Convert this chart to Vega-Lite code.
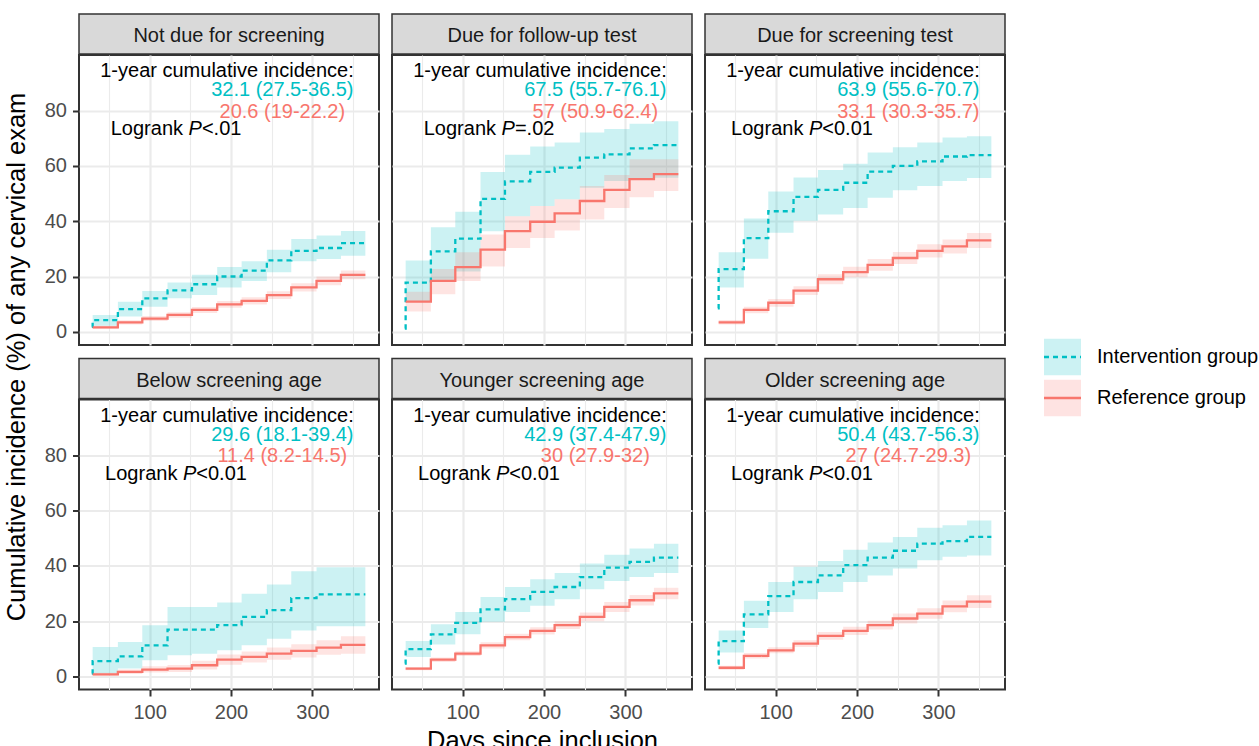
{
"$schema": "https://vega.github.io/schema/vega-lite/v6.json",
"padding": {"left": 0, "top": 13, "right": 0, "bottom": 0},
"config": {
 "font": "Liberation Sans",
 "text": {"font": "Liberation Sans"},
 "axis": {"gridColor": "#EBEBEB", "domain": false, "labelFontSize": 20, "labelColor": "#4D4D4D", "labelFont": "Liberation Sans", "tickColor": "#333333", "tickSize": 6.5, "tickWidth": 2, "labelPadding": 6, "titleFontSize": 25.5, "titleFont": "Liberation Sans", "titleFontWeight": "normal", "titleColor": "#000000", "titlePadding": 6, "labelOverlap": false, "labelFlush": false}
},
"datasets": {
 "ann": [
  {"panel": "Not due for screening", "int": "32.1 (27.5-36.5)", "ref": "20.6 (19-22.2)", "rest": "<.01"},
  {"panel": "Due for follow-up test", "int": "67.5 (55.7-76.1)", "ref": "57 (50.9-62.4)", "rest": "=.02"},
  {"panel": "Due for screening test", "int": "63.9 (55.6-70.7)", "ref": "33.1 (30.3-35.7)", "rest": "<0.01"},
  {"panel": "Below screening age", "int": "29.6 (18.1-39.4)", "ref": "11.4 (8.2-14.5)", "rest": "<0.01"},
  {"panel": "Younger screening age", "int": "42.9 (37.4-47.9)", "ref": "30 (27.9-32)", "rest": "<0.01"},
  {"panel": "Older screening age", "int": "50.4 (43.7-56.3)", "ref": "27 (24.7-29.3)", "rest": "<0.01"}
 ],
 "km": [
  {"panel": "Not due for screening", "group": "Intervention group", "day": 29, "est": 1.8, "lower": null, "upper": null},
  {"panel": "Not due for screening", "group": "Intervention group", "day": 30, "est": 4.2, "lower": 2.2, "upper": 6.1},
  {"panel": "Not due for screening", "group": "Intervention group", "day": 61, "est": 8.2, "lower": 5.5, "upper": 10.9},
  {"panel": "Not due for screening", "group": "Intervention group", "day": 91, "est": 12.1, "lower": 9.1, "upper": 14.8},
  {"panel": "Not due for screening", "group": "Intervention group", "day": 122, "est": 15.0, "lower": 12.1, "upper": 17.8},
  {"panel": "Not due for screening", "group": "Intervention group", "day": 152, "est": 17.2, "lower": 13.3, "upper": 20.6},
  {"panel": "Not due for screening", "group": "Intervention group", "day": 183, "est": 20.0, "lower": 16.0, "upper": 23.4},
  {"panel": "Not due for screening", "group": "Intervention group", "day": 213, "est": 22.1, "lower": 18.4, "upper": 25.5},
  {"panel": "Not due for screening", "group": "Intervention group", "day": 244, "est": 25.8, "lower": 21.5, "upper": 29.7},
  {"panel": "Not due for screening", "group": "Intervention group", "day": 274, "est": 29.3, "lower": 25.5, "upper": 33.6},
  {"panel": "Not due for screening", "group": "Intervention group", "day": 305, "est": 30.3, "lower": 26.3, "upper": 34.8},
  {"panel": "Not due for screening", "group": "Intervention group", "day": 335, "est": 32.1, "lower": 27.5, "upper": 36.5},
  {"panel": "Not due for screening", "group": "Intervention group", "day": 365, "est": 32.1, "lower": 27.5, "upper": 36.5},
  {"panel": "Not due for screening", "group": "Reference group", "day": 30, "est": 1.6, "lower": 1.1, "upper": 2.2},
  {"panel": "Not due for screening", "group": "Reference group", "day": 61, "est": 3.4, "lower": 2.6, "upper": 4.2},
  {"panel": "Not due for screening", "group": "Reference group", "day": 91, "est": 4.8, "lower": 3.9, "upper": 5.7},
  {"panel": "Not due for screening", "group": "Reference group", "day": 122, "est": 6.1, "lower": 5.1, "upper": 7.1},
  {"panel": "Not due for screening", "group": "Reference group", "day": 152, "est": 7.9, "lower": 6.8, "upper": 9.0},
  {"panel": "Not due for screening", "group": "Reference group", "day": 183, "est": 9.9, "lower": 8.7, "upper": 11.1},
  {"panel": "Not due for screening", "group": "Reference group", "day": 213, "est": 11.2, "lower": 9.9, "upper": 12.5},
  {"panel": "Not due for screening", "group": "Reference group", "day": 244, "est": 13.3, "lower": 11.9, "upper": 14.7},
  {"panel": "Not due for screening", "group": "Reference group", "day": 274, "est": 16.1, "lower": 14.6, "upper": 17.6},
  {"panel": "Not due for screening", "group": "Reference group", "day": 305, "est": 18.4, "lower": 16.8, "upper": 20.0},
  {"panel": "Not due for screening", "group": "Reference group", "day": 335, "est": 20.6, "lower": 19.0, "upper": 22.2},
  {"panel": "Not due for screening", "group": "Reference group", "day": 365, "est": 20.6, "lower": 19.0, "upper": 22.2},

  {"panel": "Due for follow-up test", "group": "Intervention group", "day": 29, "est": 1.2, "lower": null, "upper": null},
  {"panel": "Due for follow-up test", "group": "Intervention group", "day": 30, "est": 17.8, "lower": 10.9, "upper": 25.8},
  {"panel": "Due for follow-up test", "group": "Intervention group", "day": 61, "est": 29.1, "lower": 18.2, "upper": 37.8},
  {"panel": "Due for follow-up test", "group": "Intervention group", "day": 91, "est": 33.7, "lower": 21.8, "upper": 43.4},
  {"panel": "Due for follow-up test", "group": "Intervention group", "day": 122, "est": 48.1, "lower": 36.4, "upper": 57.8},
  {"panel": "Due for follow-up test", "group": "Intervention group", "day": 152, "est": 54.4, "lower": 41.8, "upper": 64.0},
  {"panel": "Due for follow-up test", "group": "Intervention group", "day": 183, "est": 57.8, "lower": 45.5, "upper": 67.0},
  {"panel": "Due for follow-up test", "group": "Intervention group", "day": 213, "est": 59.4, "lower": 47.9, "upper": 68.5},
  {"panel": "Due for follow-up test", "group": "Intervention group", "day": 244, "est": 63.0, "lower": 52.1, "upper": 72.1},
  {"panel": "Due for follow-up test", "group": "Intervention group", "day": 274, "est": 64.2, "lower": 54.5, "upper": 73.3},
  {"panel": "Due for follow-up test", "group": "Intervention group", "day": 305, "est": 66.3, "lower": 55.5, "upper": 75.2},
  {"panel": "Due for follow-up test", "group": "Intervention group", "day": 335, "est": 67.5, "lower": 55.7, "upper": 76.1},
  {"panel": "Due for follow-up test", "group": "Intervention group", "day": 365, "est": 67.5, "lower": 55.7, "upper": 76.1},
  {"panel": "Due for follow-up test", "group": "Reference group", "day": 30, "est": 10.9, "lower": 7.3, "upper": 14.5},
  {"panel": "Due for follow-up test", "group": "Reference group", "day": 61, "est": 18.4, "lower": 13.6, "upper": 22.7},
  {"panel": "Due for follow-up test", "group": "Reference group", "day": 91, "est": 23.4, "lower": 18.4, "upper": 28.8},
  {"panel": "Due for follow-up test", "group": "Reference group", "day": 122, "est": 29.7, "lower": 23.6, "upper": 35.2},
  {"panel": "Due for follow-up test", "group": "Reference group", "day": 152, "est": 36.4, "lower": 30.3, "upper": 41.8},
  {"panel": "Due for follow-up test", "group": "Reference group", "day": 183, "est": 39.8, "lower": 33.9, "upper": 45.5},
  {"panel": "Due for follow-up test", "group": "Reference group", "day": 213, "est": 42.8, "lower": 36.6, "upper": 47.9},
  {"panel": "Due for follow-up test", "group": "Reference group", "day": 244, "est": 47.3, "lower": 40.6, "upper": 52.7},
  {"panel": "Due for follow-up test", "group": "Reference group", "day": 274, "est": 51.3, "lower": 44.8, "upper": 56.7},
  {"panel": "Due for follow-up test", "group": "Reference group", "day": 305, "est": 55.2, "lower": 48.7, "upper": 62.4},
  {"panel": "Due for follow-up test", "group": "Reference group", "day": 335, "est": 57.0, "lower": 50.9, "upper": 62.4},
  {"panel": "Due for follow-up test", "group": "Reference group", "day": 365, "est": 57.0, "lower": 50.9, "upper": 62.4},

  {"panel": "Due for screening test", "group": "Intervention group", "day": 29, "est": 8.5, "lower": null, "upper": null},
  {"panel": "Due for screening test", "group": "Intervention group", "day": 30, "est": 22.7, "lower": 16.0, "upper": 28.8},
  {"panel": "Due for screening test", "group": "Intervention group", "day": 61, "est": 33.9, "lower": 26.4, "upper": 41.0},
  {"panel": "Due for screening test", "group": "Intervention group", "day": 91, "est": 43.6, "lower": 35.8, "upper": 50.7},
  {"panel": "Due for screening test", "group": "Intervention group", "day": 122, "est": 48.8, "lower": 40.2, "upper": 55.8},
  {"panel": "Due for screening test", "group": "Intervention group", "day": 152, "est": 51.3, "lower": 42.4, "upper": 58.5},
  {"panel": "Due for screening test", "group": "Intervention group", "day": 183, "est": 53.9, "lower": 44.8, "upper": 60.8},
  {"panel": "Due for screening test", "group": "Intervention group", "day": 213, "est": 57.9, "lower": 48.5, "upper": 64.8},
  {"panel": "Due for screening test", "group": "Intervention group", "day": 244, "est": 60.0, "lower": 51.2, "upper": 66.7},
  {"panel": "Due for screening test", "group": "Intervention group", "day": 274, "est": 61.6, "lower": 52.7, "upper": 68.5},
  {"panel": "Due for screening test", "group": "Intervention group", "day": 305, "est": 63.4, "lower": 54.5, "upper": 70.3},
  {"panel": "Due for screening test", "group": "Intervention group", "day": 335, "est": 63.9, "lower": 55.6, "upper": 70.7},
  {"panel": "Due for screening test", "group": "Intervention group", "day": 365, "est": 63.9, "lower": 55.6, "upper": 70.7},
  {"panel": "Due for screening test", "group": "Reference group", "day": 30, "est": 3.4, "lower": 2.6, "upper": 4.3},
  {"panel": "Due for screening test", "group": "Reference group", "day": 61, "est": 7.9, "lower": 6.7, "upper": 9.1},
  {"panel": "Due for screening test", "group": "Reference group", "day": 91, "est": 10.5, "lower": 9.1, "upper": 11.9},
  {"panel": "Due for screening test", "group": "Reference group", "day": 122, "est": 14.9, "lower": 13.3, "upper": 16.5},
  {"panel": "Due for screening test", "group": "Reference group", "day": 152, "est": 19.0, "lower": 17.2, "upper": 20.8},
  {"panel": "Due for screening test", "group": "Reference group", "day": 183, "est": 21.6, "lower": 19.7, "upper": 23.5},
  {"panel": "Due for screening test", "group": "Reference group", "day": 213, "est": 24.2, "lower": 22.1, "upper": 26.3},
  {"panel": "Due for screening test", "group": "Reference group", "day": 244, "est": 26.7, "lower": 24.5, "upper": 28.9},
  {"panel": "Due for screening test", "group": "Reference group", "day": 274, "est": 29.3, "lower": 26.9, "upper": 31.7},
  {"panel": "Due for screening test", "group": "Reference group", "day": 305, "est": 30.9, "lower": 28.3, "upper": 33.4},
  {"panel": "Due for screening test", "group": "Reference group", "day": 335, "est": 33.1, "lower": 30.3, "upper": 35.7},
  {"panel": "Due for screening test", "group": "Reference group", "day": 365, "est": 33.1, "lower": 30.3, "upper": 35.7},

  {"panel": "Below screening age", "group": "Intervention group", "day": 29, "est": 1.0, "lower": null, "upper": null},
  {"panel": "Below screening age", "group": "Intervention group", "day": 30, "est": 5.5, "lower": 1.0, "upper": 10.6},
  {"panel": "Below screening age", "group": "Intervention group", "day": 61, "est": 7.2, "lower": 2.8, "upper": 12.4},
  {"panel": "Below screening age", "group": "Intervention group", "day": 91, "est": 11.2, "lower": 5.8, "upper": 18.5},
  {"panel": "Below screening age", "group": "Intervention group", "day": 122, "est": 16.9, "lower": 7.6, "upper": 25.1},
  {"panel": "Below screening age", "group": "Intervention group", "day": 152, "est": 16.9, "lower": 8.2, "upper": 25.1},
  {"panel": "Below screening age", "group": "Intervention group", "day": 183, "est": 18.5, "lower": 9.4, "upper": 26.7},
  {"panel": "Below screening age", "group": "Intervention group", "day": 213, "est": 21.5, "lower": 11.2, "upper": 29.9},
  {"panel": "Below screening age", "group": "Intervention group", "day": 244, "est": 23.9, "lower": 13.6, "upper": 33.2},
  {"panel": "Below screening age", "group": "Intervention group", "day": 274, "est": 28.3, "lower": 16.6, "upper": 38.0},
  {"panel": "Below screening age", "group": "Intervention group", "day": 305, "est": 29.6, "lower": 18.1, "upper": 39.4},
  {"panel": "Below screening age", "group": "Intervention group", "day": 335, "est": 29.6, "lower": 18.1, "upper": 39.4},
  {"panel": "Below screening age", "group": "Intervention group", "day": 365, "est": 29.6, "lower": 18.1, "upper": 39.4},
  {"panel": "Below screening age", "group": "Reference group", "day": 30, "est": 0.7, "lower": 0.2, "upper": 1.3},
  {"panel": "Below screening age", "group": "Reference group", "day": 61, "est": 1.6, "lower": 0.8, "upper": 2.5},
  {"panel": "Below screening age", "group": "Reference group", "day": 91, "est": 2.4, "lower": 1.4, "upper": 3.6},
  {"panel": "Below screening age", "group": "Reference group", "day": 122, "est": 2.8, "lower": 1.6, "upper": 4.1},
  {"panel": "Below screening age", "group": "Reference group", "day": 152, "est": 4.0, "lower": 2.5, "upper": 5.6},
  {"panel": "Below screening age", "group": "Reference group", "day": 183, "est": 6.0, "lower": 4.2, "upper": 7.9},
  {"panel": "Below screening age", "group": "Reference group", "day": 213, "est": 7.0, "lower": 5.0, "upper": 9.0},
  {"panel": "Below screening age", "group": "Reference group", "day": 244, "est": 8.2, "lower": 6.0, "upper": 10.4},
  {"panel": "Below screening age", "group": "Reference group", "day": 274, "est": 9.2, "lower": 6.8, "upper": 11.6},
  {"panel": "Below screening age", "group": "Reference group", "day": 305, "est": 10.4, "lower": 7.8, "upper": 13.0},
  {"panel": "Below screening age", "group": "Reference group", "day": 335, "est": 11.4, "lower": 8.2, "upper": 14.5},
  {"panel": "Below screening age", "group": "Reference group", "day": 365, "est": 11.4, "lower": 8.2, "upper": 14.5},

  {"panel": "Younger screening age", "group": "Intervention group", "day": 29, "est": 4.6, "lower": null, "upper": null},
  {"panel": "Younger screening age", "group": "Intervention group", "day": 30, "est": 9.8, "lower": 7.0, "upper": 12.8},
  {"panel": "Younger screening age", "group": "Intervention group", "day": 61, "est": 15.2, "lower": 11.5, "upper": 18.8},
  {"panel": "Younger screening age", "group": "Intervention group", "day": 91, "est": 19.3, "lower": 15.2, "upper": 23.3},
  {"panel": "Younger screening age", "group": "Intervention group", "day": 122, "est": 24.2, "lower": 19.7, "upper": 28.7},
  {"panel": "Younger screening age", "group": "Intervention group", "day": 152, "est": 27.9, "lower": 23.3, "upper": 32.3},
  {"panel": "Younger screening age", "group": "Intervention group", "day": 183, "est": 30.5, "lower": 25.5, "upper": 35.1},
  {"panel": "Younger screening age", "group": "Intervention group", "day": 213, "est": 32.3, "lower": 27.9, "upper": 37.4},
  {"panel": "Younger screening age", "group": "Intervention group", "day": 244, "est": 35.9, "lower": 31.5, "upper": 40.8},
  {"panel": "Younger screening age", "group": "Intervention group", "day": 274, "est": 39.3, "lower": 34.5, "upper": 44.0},
  {"panel": "Younger screening age", "group": "Intervention group", "day": 305, "est": 41.4, "lower": 35.9, "upper": 46.2},
  {"panel": "Younger screening age", "group": "Intervention group", "day": 335, "est": 42.9, "lower": 37.4, "upper": 47.9},
  {"panel": "Younger screening age", "group": "Intervention group", "day": 365, "est": 42.9, "lower": 37.4, "upper": 47.9},
  {"panel": "Younger screening age", "group": "Reference group", "day": 30, "est": 2.8, "lower": 2.2, "upper": 3.4},
  {"panel": "Younger screening age", "group": "Reference group", "day": 61, "est": 6.0, "lower": 5.2, "upper": 6.8},
  {"panel": "Younger screening age", "group": "Reference group", "day": 91, "est": 8.2, "lower": 7.3, "upper": 9.1},
  {"panel": "Younger screening age", "group": "Reference group", "day": 122, "est": 11.2, "lower": 10.1, "upper": 12.3},
  {"panel": "Younger screening age", "group": "Reference group", "day": 152, "est": 14.2, "lower": 13.0, "upper": 15.4},
  {"panel": "Younger screening age", "group": "Reference group", "day": 183, "est": 16.4, "lower": 15.1, "upper": 17.7},
  {"panel": "Younger screening age", "group": "Reference group", "day": 213, "est": 18.5, "lower": 17.1, "upper": 19.9},
  {"panel": "Younger screening age", "group": "Reference group", "day": 244, "est": 21.5, "lower": 19.9, "upper": 23.1},
  {"panel": "Younger screening age", "group": "Reference group", "day": 274, "est": 25.1, "lower": 23.3, "upper": 26.9},
  {"panel": "Younger screening age", "group": "Reference group", "day": 305, "est": 27.5, "lower": 25.6, "upper": 29.4},
  {"panel": "Younger screening age", "group": "Reference group", "day": 335, "est": 30.0, "lower": 27.9, "upper": 32.0},
  {"panel": "Younger screening age", "group": "Reference group", "day": 365, "est": 30.0, "lower": 27.9, "upper": 32.0},

  {"panel": "Older screening age", "group": "Intervention group", "day": 29, "est": 4.6, "lower": null, "upper": null},
  {"panel": "Older screening age", "group": "Intervention group", "day": 30, "est": 12.7, "lower": 8.6, "upper": 16.6},
  {"panel": "Older screening age", "group": "Intervention group", "day": 61, "est": 22.4, "lower": 17.5, "upper": 27.3},
  {"panel": "Older screening age", "group": "Intervention group", "day": 91, "est": 29.0, "lower": 23.3, "upper": 34.1},
  {"panel": "Older screening age", "group": "Intervention group", "day": 122, "est": 34.1, "lower": 27.9, "upper": 39.6},
  {"panel": "Older screening age", "group": "Intervention group", "day": 152, "est": 36.5, "lower": 30.5, "upper": 41.7},
  {"panel": "Older screening age", "group": "Intervention group", "day": 183, "est": 40.2, "lower": 34.1, "upper": 45.8},
  {"panel": "Older screening age", "group": "Intervention group", "day": 213, "est": 42.9, "lower": 36.5, "upper": 48.4},
  {"panel": "Older screening age", "group": "Intervention group", "day": 244, "est": 45.4, "lower": 39.0, "upper": 50.4},
  {"panel": "Older screening age", "group": "Intervention group", "day": 274, "est": 48.0, "lower": 42.0, "upper": 53.7},
  {"panel": "Older screening age", "group": "Intervention group", "day": 305, "est": 48.9, "lower": 43.2, "upper": 54.6},
  {"panel": "Older screening age", "group": "Intervention group", "day": 335, "est": 50.4, "lower": 43.7, "upper": 56.3},
  {"panel": "Older screening age", "group": "Intervention group", "day": 365, "est": 50.4, "lower": 43.7, "upper": 56.3},
  {"panel": "Older screening age", "group": "Reference group", "day": 30, "est": 3.1, "lower": 2.4, "upper": 3.8},
  {"panel": "Older screening age", "group": "Reference group", "day": 61, "est": 7.4, "lower": 6.4, "upper": 8.4},
  {"panel": "Older screening age", "group": "Reference group", "day": 91, "est": 9.4, "lower": 8.3, "upper": 10.5},
  {"panel": "Older screening age", "group": "Reference group", "day": 122, "est": 11.8, "lower": 10.6, "upper": 13.0},
  {"panel": "Older screening age", "group": "Reference group", "day": 152, "est": 14.6, "lower": 13.2, "upper": 16.0},
  {"panel": "Older screening age", "group": "Reference group", "day": 183, "est": 16.4, "lower": 14.9, "upper": 17.9},
  {"panel": "Older screening age", "group": "Reference group", "day": 213, "est": 18.5, "lower": 16.9, "upper": 20.1},
  {"panel": "Older screening age", "group": "Reference group", "day": 244, "est": 20.9, "lower": 19.1, "upper": 22.7},
  {"panel": "Older screening age", "group": "Reference group", "day": 274, "est": 22.7, "lower": 20.8, "upper": 24.6},
  {"panel": "Older screening age", "group": "Reference group", "day": 305, "est": 25.3, "lower": 23.2, "upper": 27.4},
  {"panel": "Older screening age", "group": "Reference group", "day": 335, "est": 27.0, "lower": 24.7, "upper": 29.3},
  {"panel": "Older screening age", "group": "Reference group", "day": 365, "est": 27.0, "lower": 24.7, "upper": 29.3}
 ]
},
"spacing": 10,
"hconcat": [
 {"width": 33, "height": 686, "view": {"stroke": null},
  "data": {"values": [{"t": "Cumulative incidence (%) of any cervical exam"}]},
  "mark": {"type": "text", "angle": 270, "fontSize": 25.5, "color": "#000000", "baseline": "middle", "align": "center"},
  "encoding": {"text": {"field": "t"}}},
 {"spacing": 11.5, "vconcat": [
  {"spacing": 11, "hconcat": [
   {"spacing": -1.5, "vconcat": [
    {"width": 300, "height": 40, "view": {"fill": "#D9D9D9", "stroke": "#333333", "strokeWidth": 1.5},
     "data": {"name": "ann"}, "transform": [{"filter": "datum.panel === 'Not due for screening'"}],
     "mark": {"type": "text", "fontSize": 20, "color": "#1A1A1A", "baseline": "middle", "dy": 2},
     "encoding": {"text": {"field": "panel"}}},
    {"width": 300, "height": 290, "view": {"stroke": "#333333", "strokeWidth": 2},
     "layer": [
      {"data": {"name": "km"}, "transform": [{"filter": "datum.panel === 'Not due for screening'"}],
       "layer": [
        {"mark": {"type": "area", "interpolate": "step-after", "opacity": 0.2},
         "encoding": {
          "x": {"field": "day", "type": "quantitative", "scale": {"domain": [13.25, 381.75], "nice": false, "zero": false},
                "axis": {"title": null, "values": [50,100,150,200,250,300,350], "labels": false, "ticks": false, "gridWidth": {"condition": {"test": "datum.value % 100 === 0", "value": 2.2}, "value": 1.1}}},
          "y": {"field": "lower", "type": "quantitative", "scale": {"domain": [-4.77, 100.1], "nice": false, "zero": false},
                "axis": {"title": null, "values": [0,10,20,30,40,50,60,70,80,90], "labelExpr": "datum.value % 20 === 0 ? datum.label : ''", "tickOpacity": {"condition": {"test": "datum.value % 20 === 0", "value": 1}, "value": 0}, "gridWidth": {"condition": {"test": "datum.value % 20 === 0", "value": 2.2}, "value": 1.1}}},
          "y2": {"field": "upper"},
          "fill": {"field": "group", "type": "nominal", "scale": {"domain": ["Intervention group", "Reference group"], "range": ["#00BFC4", "#F8766D"]},
                   "legend": {"title": null, "orient": "none", "legendX": 1042.5, "legendY": 324.5, "clipHeight": 37, "symbolType": "square", "symbolSize": 1369, "symbolOpacity": 0.2, "symbolStrokeColor": "transparent", "symbolStrokeWidth": 2.3, "labelFontSize": 20, "labelFont": "Liberation Sans", "labelOffset": 14.5, "labelLimit": 400, "rowPadding": 4, "padding": 0, "labelColor": "#000000"}}}},
        {"mark": {"type": "line", "interpolate": "step-after", "strokeWidth": 2.3},
         "encoding": {
          "x": {"field": "day", "type": "quantitative"},
          "y": {"field": "est", "type": "quantitative"},
          "stroke": {"field": "group", "type": "nominal", "scale": {"range": ["#00BFC4", "#F8766D"]},
                     "legend": {"title": null, "orient": "none", "legendX": 1042.5, "legendY": 324.5, "clipHeight": 37, "symbolType": "stroke", "symbolSize": 1369, "symbolStrokeWidth": 2.3, "labelFontSize": 20, "labelFont": "Liberation Sans", "labelOffset": 14.5, "labelLimit": 400, "rowPadding": 4, "padding": 0, "labelOpacity": 0}},
          "strokeDash": {"field": "group", "type": "nominal", "scale": {"range": [[5,4],[1,0]]},
                     "legend": {"title": null, "orient": "none", "legendX": 1042.5, "legendY": 324.5, "clipHeight": 37, "symbolType": "stroke", "symbolSize": 1369, "symbolStrokeWidth": 2.3, "labelFontSize": 20, "labelFont": "Liberation Sans", "labelOffset": 14.5, "labelLimit": 400, "rowPadding": 4, "padding": 0, "labelOpacity": 0}}}}
       ]},
      {"data": {"name": "ann"}, "transform": [{"filter": "datum.panel === 'Not due for screening'"}],
       "layer": [
        {"mark": {"type": "text", "fontSize": 20, "color": "#000000", "baseline": "middle", "text": "1-year cumulative incidence:"}, "encoding": {"x": {"datum": 195}, "y": {"datum": 94.2}}},
        {"mark": {"type": "text", "fontSize": 20, "color": "#00BFC4", "baseline": "middle"}, "encoding": {"x": {"datum": 263}, "y": {"datum": 87.4}, "text": {"field": "int"}}},
        {"mark": {"type": "text", "fontSize": 20, "color": "#F8766D", "baseline": "middle"}, "encoding": {"x": {"datum": 263}, "y": {"datum": 79.6}, "text": {"field": "ref"}}},
        {"mark": {"type": "text", "fontSize": 20, "color": "#000000", "baseline": "middle", "align": "right", "dx": -5.6, "text": "Logrank"}, "encoding": {"x": {"datum": 147.9}, "y": {"datum": 73.3}}},
        {"mark": {"type": "text", "fontSize": 20, "color": "#000000", "baseline": "middle", "align": "left", "fontStyle": "italic", "text": "P"}, "encoding": {"x": {"datum": 147.9}, "y": {"datum": 73.3}}},
        {"mark": {"type": "text", "fontSize": 20, "color": "#000000", "baseline": "middle", "align": "left", "dx": 13.3}, "encoding": {"x": {"datum": 147.9}, "y": {"datum": 73.3}, "text": {"field": "rest"}}}
       ]}
     ]}
   ]},
   {"spacing": -1.5, "vconcat": [
    {"width": 300, "height": 40, "view": {"fill": "#D9D9D9", "stroke": "#333333", "strokeWidth": 1.5},
     "data": {"name": "ann"}, "transform": [{"filter": "datum.panel === 'Due for follow-up test'"}],
     "mark": {"type": "text", "fontSize": 20, "color": "#1A1A1A", "baseline": "middle", "dy": 2},
     "encoding": {"text": {"field": "panel"}}},
    {"width": 300, "height": 290, "view": {"stroke": "#333333", "strokeWidth": 2},
     "layer": [
      {"data": {"name": "km"}, "transform": [{"filter": "datum.panel === 'Due for follow-up test'"}],
       "layer": [
        {"mark": {"type": "area", "interpolate": "step-after", "opacity": 0.2},
         "encoding": {
          "x": {"field": "day", "type": "quantitative", "scale": {"domain": [13.25, 381.75], "nice": false, "zero": false},
                "axis": {"title": null, "values": [50,100,150,200,250,300,350], "labels": false, "ticks": false, "gridWidth": {"condition": {"test": "datum.value % 100 === 0", "value": 2.2}, "value": 1.1}}},
          "y": {"field": "lower", "type": "quantitative", "scale": {"domain": [-4.77, 100.1], "nice": false, "zero": false},
                "axis": {"title": null, "values": [0,10,20,30,40,50,60,70,80,90], "labels": false, "ticks": false, "gridWidth": {"condition": {"test": "datum.value % 20 === 0", "value": 2.2}, "value": 1.1}}},
          "y2": {"field": "upper"},
          "fill": {"field": "group", "type": "nominal", "scale": {"domain": ["Intervention group", "Reference group"], "range": ["#00BFC4", "#F8766D"]}}}},
        {"mark": {"type": "line", "interpolate": "step-after", "strokeWidth": 2.3},
         "encoding": {
          "x": {"field": "day", "type": "quantitative"},
          "y": {"field": "est", "type": "quantitative"},
          "stroke": {"field": "group", "type": "nominal", "scale": {"range": ["#00BFC4", "#F8766D"]}},
          "strokeDash": {"field": "group", "type": "nominal", "scale": {"range": [[5,4],[1,0]]}}}}
       ]},
      {"data": {"name": "ann"}, "transform": [{"filter": "datum.panel === 'Due for follow-up test'"}],
       "layer": [
        {"mark": {"type": "text", "fontSize": 20, "color": "#000000", "baseline": "middle", "text": "1-year cumulative incidence:"}, "encoding": {"x": {"datum": 195}, "y": {"datum": 94.2}}},
        {"mark": {"type": "text", "fontSize": 20, "color": "#00BFC4", "baseline": "middle"}, "encoding": {"x": {"datum": 263}, "y": {"datum": 87.4}, "text": {"field": "int"}}},
        {"mark": {"type": "text", "fontSize": 20, "color": "#F8766D", "baseline": "middle"}, "encoding": {"x": {"datum": 263}, "y": {"datum": 79.6}, "text": {"field": "ref"}}},
        {"mark": {"type": "text", "fontSize": 20, "color": "#000000", "baseline": "middle", "align": "right", "dx": -5.6, "text": "Logrank"}, "encoding": {"x": {"datum": 147.9}, "y": {"datum": 73.3}}},
        {"mark": {"type": "text", "fontSize": 20, "color": "#000000", "baseline": "middle", "align": "left", "fontStyle": "italic", "text": "P"}, "encoding": {"x": {"datum": 147.9}, "y": {"datum": 73.3}}},
        {"mark": {"type": "text", "fontSize": 20, "color": "#000000", "baseline": "middle", "align": "left", "dx": 13.3}, "encoding": {"x": {"datum": 147.9}, "y": {"datum": 73.3}, "text": {"field": "rest"}}}
       ]}
     ]}
   ]},
   {"spacing": -1.5, "vconcat": [
    {"width": 300, "height": 40, "view": {"fill": "#D9D9D9", "stroke": "#333333", "strokeWidth": 1.5},
     "data": {"name": "ann"}, "transform": [{"filter": "datum.panel === 'Due for screening test'"}],
     "mark": {"type": "text", "fontSize": 20, "color": "#1A1A1A", "baseline": "middle", "dy": 2},
     "encoding": {"text": {"field": "panel"}}},
    {"width": 300, "height": 290, "view": {"stroke": "#333333", "strokeWidth": 2},
     "layer": [
      {"data": {"name": "km"}, "transform": [{"filter": "datum.panel === 'Due for screening test'"}],
       "layer": [
        {"mark": {"type": "area", "interpolate": "step-after", "opacity": 0.2},
         "encoding": {
          "x": {"field": "day", "type": "quantitative", "scale": {"domain": [13.25, 381.75], "nice": false, "zero": false},
                "axis": {"title": null, "values": [50,100,150,200,250,300,350], "labels": false, "ticks": false, "gridWidth": {"condition": {"test": "datum.value % 100 === 0", "value": 2.2}, "value": 1.1}}},
          "y": {"field": "lower", "type": "quantitative", "scale": {"domain": [-4.77, 100.1], "nice": false, "zero": false},
                "axis": {"title": null, "values": [0,10,20,30,40,50,60,70,80,90], "labels": false, "ticks": false, "gridWidth": {"condition": {"test": "datum.value % 20 === 0", "value": 2.2}, "value": 1.1}}},
          "y2": {"field": "upper"},
          "fill": {"field": "group", "type": "nominal", "scale": {"domain": ["Intervention group", "Reference group"], "range": ["#00BFC4", "#F8766D"]}}}},
        {"mark": {"type": "line", "interpolate": "step-after", "strokeWidth": 2.3},
         "encoding": {
          "x": {"field": "day", "type": "quantitative"},
          "y": {"field": "est", "type": "quantitative"},
          "stroke": {"field": "group", "type": "nominal", "scale": {"range": ["#00BFC4", "#F8766D"]}},
          "strokeDash": {"field": "group", "type": "nominal", "scale": {"range": [[5,4],[1,0]]}}}}
       ]},
      {"data": {"name": "ann"}, "transform": [{"filter": "datum.panel === 'Due for screening test'"}],
       "layer": [
        {"mark": {"type": "text", "fontSize": 20, "color": "#000000", "baseline": "middle", "text": "1-year cumulative incidence:"}, "encoding": {"x": {"datum": 195}, "y": {"datum": 94.2}}},
        {"mark": {"type": "text", "fontSize": 20, "color": "#00BFC4", "baseline": "middle"}, "encoding": {"x": {"datum": 263}, "y": {"datum": 87.4}, "text": {"field": "int"}}},
        {"mark": {"type": "text", "fontSize": 20, "color": "#F8766D", "baseline": "middle"}, "encoding": {"x": {"datum": 263}, "y": {"datum": 79.6}, "text": {"field": "ref"}}},
        {"mark": {"type": "text", "fontSize": 20, "color": "#000000", "baseline": "middle", "align": "right", "dx": -5.6, "text": "Logrank"}, "encoding": {"x": {"datum": 141.0}, "y": {"datum": 73.3}}},
        {"mark": {"type": "text", "fontSize": 20, "color": "#000000", "baseline": "middle", "align": "left", "fontStyle": "italic", "text": "P"}, "encoding": {"x": {"datum": 141.0}, "y": {"datum": 73.3}}},
        {"mark": {"type": "text", "fontSize": 20, "color": "#000000", "baseline": "middle", "align": "left", "dx": 13.3}, "encoding": {"x": {"datum": 141.0}, "y": {"datum": 73.3}, "text": {"field": "rest"}}}
       ]}
     ]}
   ]}
  ]},
  {"spacing": 11, "hconcat": [
   {"spacing": -1.5, "vconcat": [
    {"width": 300, "height": 40, "view": {"fill": "#D9D9D9", "stroke": "#333333", "strokeWidth": 1.5},
     "data": {"name": "ann"}, "transform": [{"filter": "datum.panel === 'Below screening age'"}],
     "mark": {"type": "text", "fontSize": 20, "color": "#1A1A1A", "baseline": "middle", "dy": 2},
     "encoding": {"text": {"field": "panel"}}},
    {"width": 300, "height": 290, "view": {"stroke": "#333333", "strokeWidth": 2},
     "layer": [
      {"data": {"name": "km"}, "transform": [{"filter": "datum.panel === 'Below screening age'"}],
       "layer": [
        {"mark": {"type": "area", "interpolate": "step-after", "opacity": 0.2},
         "encoding": {
          "x": {"field": "day", "type": "quantitative", "scale": {"domain": [13.25, 381.75], "nice": false, "zero": false},
                "axis": {"title": null, "values": [50,100,150,200,250,300,350], "labelExpr": "datum.value % 100 === 0 ? datum.label : ''", "tickOpacity": {"condition": {"test": "datum.value % 100 === 0", "value": 1}, "value": 0}, "gridWidth": {"condition": {"test": "datum.value % 100 === 0", "value": 2.2}, "value": 1.1}}},
          "y": {"field": "lower", "type": "quantitative", "scale": {"domain": [-4.77, 100.1], "nice": false, "zero": false},
                "axis": {"title": null, "values": [0,10,20,30,40,50,60,70,80,90], "labelExpr": "datum.value % 20 === 0 ? datum.label : ''", "tickOpacity": {"condition": {"test": "datum.value % 20 === 0", "value": 1}, "value": 0}, "gridWidth": {"condition": {"test": "datum.value % 20 === 0", "value": 2.2}, "value": 1.1}}},
          "y2": {"field": "upper"},
          "fill": {"field": "group", "type": "nominal", "scale": {"domain": ["Intervention group", "Reference group"], "range": ["#00BFC4", "#F8766D"]}}}},
        {"mark": {"type": "line", "interpolate": "step-after", "strokeWidth": 2.3},
         "encoding": {
          "x": {"field": "day", "type": "quantitative"},
          "y": {"field": "est", "type": "quantitative"},
          "stroke": {"field": "group", "type": "nominal", "scale": {"range": ["#00BFC4", "#F8766D"]}},
          "strokeDash": {"field": "group", "type": "nominal", "scale": {"range": [[5,4],[1,0]]}}}}
       ]},
      {"data": {"name": "ann"}, "transform": [{"filter": "datum.panel === 'Below screening age'"}],
       "layer": [
        {"mark": {"type": "text", "fontSize": 20, "color": "#000000", "baseline": "middle", "text": "1-year cumulative incidence:"}, "encoding": {"x": {"datum": 195}, "y": {"datum": 94.2}}},
        {"mark": {"type": "text", "fontSize": 20, "color": "#00BFC4", "baseline": "middle"}, "encoding": {"x": {"datum": 263}, "y": {"datum": 87.4}, "text": {"field": "int"}}},
        {"mark": {"type": "text", "fontSize": 20, "color": "#F8766D", "baseline": "middle"}, "encoding": {"x": {"datum": 263}, "y": {"datum": 79.6}, "text": {"field": "ref"}}},
        {"mark": {"type": "text", "fontSize": 20, "color": "#000000", "baseline": "middle", "align": "right", "dx": -5.6, "text": "Logrank"}, "encoding": {"x": {"datum": 141.0}, "y": {"datum": 73.3}}},
        {"mark": {"type": "text", "fontSize": 20, "color": "#000000", "baseline": "middle", "align": "left", "fontStyle": "italic", "text": "P"}, "encoding": {"x": {"datum": 141.0}, "y": {"datum": 73.3}}},
        {"mark": {"type": "text", "fontSize": 20, "color": "#000000", "baseline": "middle", "align": "left", "dx": 13.3}, "encoding": {"x": {"datum": 141.0}, "y": {"datum": 73.3}, "text": {"field": "rest"}}}
       ]}
     ]}
   ]},
   {"spacing": -1.5, "vconcat": [
    {"width": 300, "height": 40, "view": {"fill": "#D9D9D9", "stroke": "#333333", "strokeWidth": 1.5},
     "data": {"name": "ann"}, "transform": [{"filter": "datum.panel === 'Younger screening age'"}],
     "mark": {"type": "text", "fontSize": 20, "color": "#1A1A1A", "baseline": "middle", "dy": 2},
     "encoding": {"text": {"field": "panel"}}},
    {"width": 300, "height": 290, "view": {"stroke": "#333333", "strokeWidth": 2},
     "layer": [
      {"data": {"name": "km"}, "transform": [{"filter": "datum.panel === 'Younger screening age'"}],
       "layer": [
        {"mark": {"type": "area", "interpolate": "step-after", "opacity": 0.2},
         "encoding": {
          "x": {"field": "day", "type": "quantitative", "scale": {"domain": [13.25, 381.75], "nice": false, "zero": false},
                "axis": {"title": "Days since inclusion", "values": [50,100,150,200,250,300,350], "labelExpr": "datum.value % 100 === 0 ? datum.label : ''", "tickOpacity": {"condition": {"test": "datum.value % 100 === 0", "value": 1}, "value": 0}, "gridWidth": {"condition": {"test": "datum.value % 100 === 0", "value": 2.2}, "value": 1.1}}},
          "y": {"field": "lower", "type": "quantitative", "scale": {"domain": [-4.77, 100.1], "nice": false, "zero": false},
                "axis": {"title": null, "values": [0,10,20,30,40,50,60,70,80,90], "labels": false, "ticks": false, "gridWidth": {"condition": {"test": "datum.value % 20 === 0", "value": 2.2}, "value": 1.1}}},
          "y2": {"field": "upper"},
          "fill": {"field": "group", "type": "nominal", "scale": {"domain": ["Intervention group", "Reference group"], "range": ["#00BFC4", "#F8766D"]}}}},
        {"mark": {"type": "line", "interpolate": "step-after", "strokeWidth": 2.3},
         "encoding": {
          "x": {"field": "day", "type": "quantitative"},
          "y": {"field": "est", "type": "quantitative"},
          "stroke": {"field": "group", "type": "nominal", "scale": {"range": ["#00BFC4", "#F8766D"]}},
          "strokeDash": {"field": "group", "type": "nominal", "scale": {"range": [[5,4],[1,0]]}}}}
       ]},
      {"data": {"name": "ann"}, "transform": [{"filter": "datum.panel === 'Younger screening age'"}],
       "layer": [
        {"mark": {"type": "text", "fontSize": 20, "color": "#000000", "baseline": "middle", "text": "1-year cumulative incidence:"}, "encoding": {"x": {"datum": 195}, "y": {"datum": 94.2}}},
        {"mark": {"type": "text", "fontSize": 20, "color": "#00BFC4", "baseline": "middle"}, "encoding": {"x": {"datum": 263}, "y": {"datum": 87.4}, "text": {"field": "int"}}},
        {"mark": {"type": "text", "fontSize": 20, "color": "#F8766D", "baseline": "middle"}, "encoding": {"x": {"datum": 263}, "y": {"datum": 79.6}, "text": {"field": "ref"}}},
        {"mark": {"type": "text", "fontSize": 20, "color": "#000000", "baseline": "middle", "align": "right", "dx": -5.6, "text": "Logrank"}, "encoding": {"x": {"datum": 141.0}, "y": {"datum": 73.3}}},
        {"mark": {"type": "text", "fontSize": 20, "color": "#000000", "baseline": "middle", "align": "left", "fontStyle": "italic", "text": "P"}, "encoding": {"x": {"datum": 141.0}, "y": {"datum": 73.3}}},
        {"mark": {"type": "text", "fontSize": 20, "color": "#000000", "baseline": "middle", "align": "left", "dx": 13.3}, "encoding": {"x": {"datum": 141.0}, "y": {"datum": 73.3}, "text": {"field": "rest"}}}
       ]}
     ]}
   ]},
   {"spacing": -1.5, "vconcat": [
    {"width": 300, "height": 40, "view": {"fill": "#D9D9D9", "stroke": "#333333", "strokeWidth": 1.5},
     "data": {"name": "ann"}, "transform": [{"filter": "datum.panel === 'Older screening age'"}],
     "mark": {"type": "text", "fontSize": 20, "color": "#1A1A1A", "baseline": "middle", "dy": 2},
     "encoding": {"text": {"field": "panel"}}},
    {"width": 300, "height": 290, "view": {"stroke": "#333333", "strokeWidth": 2},
     "layer": [
      {"data": {"name": "km"}, "transform": [{"filter": "datum.panel === 'Older screening age'"}],
       "layer": [
        {"mark": {"type": "area", "interpolate": "step-after", "opacity": 0.2},
         "encoding": {
          "x": {"field": "day", "type": "quantitative", "scale": {"domain": [13.25, 381.75], "nice": false, "zero": false},
                "axis": {"title": null, "values": [50,100,150,200,250,300,350], "labelExpr": "datum.value % 100 === 0 ? datum.label : ''", "tickOpacity": {"condition": {"test": "datum.value % 100 === 0", "value": 1}, "value": 0}, "gridWidth": {"condition": {"test": "datum.value % 100 === 0", "value": 2.2}, "value": 1.1}}},
          "y": {"field": "lower", "type": "quantitative", "scale": {"domain": [-4.77, 100.1], "nice": false, "zero": false},
                "axis": {"title": null, "values": [0,10,20,30,40,50,60,70,80,90], "labels": false, "ticks": false, "gridWidth": {"condition": {"test": "datum.value % 20 === 0", "value": 2.2}, "value": 1.1}}},
          "y2": {"field": "upper"},
          "fill": {"field": "group", "type": "nominal", "scale": {"domain": ["Intervention group", "Reference group"], "range": ["#00BFC4", "#F8766D"]}}}},
        {"mark": {"type": "line", "interpolate": "step-after", "strokeWidth": 2.3},
         "encoding": {
          "x": {"field": "day", "type": "quantitative"},
          "y": {"field": "est", "type": "quantitative"},
          "stroke": {"field": "group", "type": "nominal", "scale": {"range": ["#00BFC4", "#F8766D"]}},
          "strokeDash": {"field": "group", "type": "nominal", "scale": {"range": [[5,4],[1,0]]}}}}
       ]},
      {"data": {"name": "ann"}, "transform": [{"filter": "datum.panel === 'Older screening age'"}],
       "layer": [
        {"mark": {"type": "text", "fontSize": 20, "color": "#000000", "baseline": "middle", "text": "1-year cumulative incidence:"}, "encoding": {"x": {"datum": 195}, "y": {"datum": 94.2}}},
        {"mark": {"type": "text", "fontSize": 20, "color": "#00BFC4", "baseline": "middle"}, "encoding": {"x": {"datum": 263}, "y": {"datum": 87.4}, "text": {"field": "int"}}},
        {"mark": {"type": "text", "fontSize": 20, "color": "#F8766D", "baseline": "middle"}, "encoding": {"x": {"datum": 263}, "y": {"datum": 79.6}, "text": {"field": "ref"}}},
        {"mark": {"type": "text", "fontSize": 20, "color": "#000000", "baseline": "middle", "align": "right", "dx": -5.6, "text": "Logrank"}, "encoding": {"x": {"datum": 141.0}, "y": {"datum": 73.3}}},
        {"mark": {"type": "text", "fontSize": 20, "color": "#000000", "baseline": "middle", "align": "left", "fontStyle": "italic", "text": "P"}, "encoding": {"x": {"datum": 141.0}, "y": {"datum": 73.3}}},
        {"mark": {"type": "text", "fontSize": 20, "color": "#000000", "baseline": "middle", "align": "left", "dx": 13.3}, "encoding": {"x": {"datum": 141.0}, "y": {"datum": 73.3}, "text": {"field": "rest"}}}
       ]}
     ]}
   ]}
  ]}
 ]}
]
}
